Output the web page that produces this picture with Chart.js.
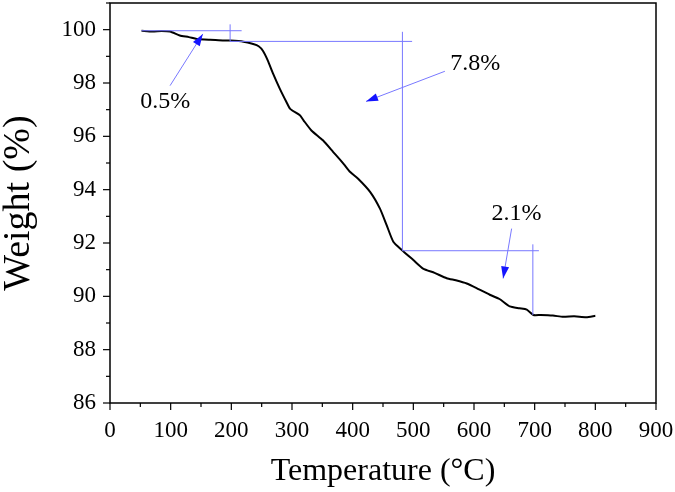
<!DOCTYPE html>
<html>
<head>
<meta charset="utf-8">
<script src="https://cdn.jsdelivr.net/npm/chart.js@4.4.0/dist/chart.umd.min.js"></script>
<style>
  html, body { margin: 0; padding: 0; background: #fff; }
  #wrap { width: 675px; height: 492px; }
</style>
</head>
<body>
<div id="wrap"><canvas id="myChart" width="675" height="492"></canvas></div>
<script>
// TGA curve
const temps = [52, 70, 85, 99, 115, 130, 143, 165, 198, 220, 236, 245, 252, 260, 269, 280, 291, 297, 313, 319,
  332, 351, 368, 385, 396, 409, 429, 445, 456, 467, 481, 500, 516, 535, 555, 570, 588, 605, 626, 642,
  659, 675, 687, 698, 710, 730, 747, 765, 785, 800];
const weights = [99.96, 99.93, 99.95, 99.93, 99.78, 99.72, 99.65, 99.62, 99.59, 99.55, 99.46, 99.38, 99.21, 98.85, 98.34, 97.78, 97.28, 97.03, 96.79, 96.6,
  96.22, 95.85, 95.41, 94.97, 94.66, 94.41, 93.91, 93.29, 92.67, 92.05, 91.74, 91.36, 91.04, 90.88, 90.68, 90.6, 90.48, 90.3, 90.06, 89.9,
  89.62, 89.55, 89.5, 89.3, 89.3, 89.28, 89.23, 89.25, 89.22, 89.27];

// guide lines [x1, y1, x2, y2] in data units
const guideLines = [
  [52, 99.96, 217, 99.96],
  [198, 100.2, 198, 99.56],
  [198, 99.56, 498, 99.56],
  [482, 99.92, 482, 91.71],
  [482, 91.71, 707, 91.71],
  [697, 91.95, 697, 89.3]
];
// arrows [tailX, tailY, headX, headY]
const arrows = [
  [99, 97.9, 153, 99.84],
  [552, 98.44, 422, 97.31],
  [662, 92.54, 648, 90.67]
];
const lossLabels = ['0.5%', '7.8%', '2.1%'];
const lossLabelPos = [[91, 97.31], [602, 98.71], [670, 93.1]];

const points = temps.map((t, i) => ({ x: t, y: weights[i] }));

const serif = '"Liberation Serif", "Times New Roman", serif';

const frameAndMarks = {
  id: 'frameAndMarks',
  afterDatasetsDraw(chart) {
    const c = chart.ctx;
    const xs = chart.scales.x, ys = chart.scales.y;
    const a = chart.chartArea;
    c.save();
    // guide lines
    c.strokeStyle = 'rgb(120,120,255)';
    c.lineWidth = 1;
    guideLines.forEach(g => {
      c.beginPath();
      c.moveTo(xs.getPixelForValue(g[0]), ys.getPixelForValue(g[1]));
      c.lineTo(xs.getPixelForValue(g[2]), ys.getPixelForValue(g[3]));
      c.stroke();
    });
    // arrows
    arrows.forEach(ar => {
      const x1 = xs.getPixelForValue(ar[0]), y1 = ys.getPixelForValue(ar[1]);
      const x2 = xs.getPixelForValue(ar[2]), y2 = ys.getPixelForValue(ar[3]);
      const ang = Math.atan2(y2 - y1, x2 - x1);
      c.strokeStyle = 'rgb(120,120,255)';
      c.beginPath();
      c.moveTo(x1, y1);
      c.lineTo(x2, y2);
      c.stroke();
      c.fillStyle = 'rgb(20,20,255)';
      c.beginPath();
      c.moveTo(x2, y2);
      c.lineTo(x2 - 12 * Math.cos(ang) + 4 * Math.sin(ang), y2 - 12 * Math.sin(ang) - 4 * Math.cos(ang));
      c.lineTo(x2 - 12 * Math.cos(ang) - 4 * Math.sin(ang), y2 - 12 * Math.sin(ang) + 4 * Math.cos(ang));
      c.closePath();
      c.fill();
    });
    // loss labels
    c.fillStyle = '#000';
    c.font = '24px ' + serif;
    c.textAlign = 'center';
    c.textBaseline = 'middle';
    lossLabels.forEach((s, i) => {
      c.fillText(s, xs.getPixelForValue(lossLabelPos[i][0]), ys.getPixelForValue(lossLabelPos[i][1]));
    });
    // frame
    c.strokeStyle = '#000';
    c.lineWidth = 1.5;
    c.strokeRect(a.left, a.top, a.right - a.left, a.bottom - a.top);
    // tick marks, outward
    c.lineWidth = 1.2;
    xs.ticks.forEach(t => {
      const px = xs.getPixelForValue(t.value);
      const len = t.value % 100 === 0 ? 7 : 4;
      c.beginPath();
      c.moveTo(px, a.bottom);
      c.lineTo(px, a.bottom + len);
      c.stroke();
    });
    ys.ticks.forEach(t => {
      const py = ys.getPixelForValue(t.value);
      const len = t.value % 2 === 0 ? 7 : 4;
      c.beginPath();
      c.moveTo(a.left, py);
      c.lineTo(a.left - len, py);
      c.stroke();
    });
    c.restore();
  }
};

let ctx = document.getElementById('myChart').getContext('2d');
var myChart = new Chart(ctx, {
  type: 'scatter',
  data: {
    datasets: [
      {
        data: points,
        showLine: true,
        borderColor: '#000',
        borderWidth: 2,
        pointRadius: 0,
        tension: 0.2
      }]
  },
  options: {
    responsive: false,
    animation: false,
    layout: { padding: { top: 3, right: 19, left: 0, bottom: 0 } },
    plugins: { legend: { display: false }, tooltip: { enabled: false } },
    scales: {
      x: {
        type: 'linear',
        min: 0,
        max: 900,
        grid: { display: false },
        border: { display: false },
        ticks: {
          stepSize: 50,
          autoSkip: false,
          maxRotation: 0,
          padding: 6,
          color: '#000',
          font: { family: serif, size: 23 },
          callback: v => (v % 100 === 0 ? v : '')
        },
        title: {
          display: true,
          text: 'Temperature (°C)',
          color: '#000',
          font: { family: serif, size: 32, lineHeight: 1 },
          padding: { top: 0, bottom: 4 }
        },
        afterFit: s => { s.height = 89; s.paddingLeft = 0; s.paddingRight = 0; }
      },
      y: {
        min: 86,
        max: 101,
        grid: { display: false },
        border: { display: false },
        ticks: {
          stepSize: 1,
          autoSkip: false,
          padding: 6,
          color: '#000',
          font: { family: serif, size: 23 },
          callback: v => (v % 2 === 0 ? v : '')
        },
        title: {
          display: true,
          text: 'Weight (%)',
          color: '#000',
          font: { family: serif, size: 38, lineHeight: 1 },
          padding: { top: 0, bottom: 0 }
        },
        afterFit: s => { s.width = 110; s.paddingTop = 0; s.paddingBottom = 0; }
      }
    }
  },
  plugins: [frameAndMarks]
});
</script>
</body>
</html>
